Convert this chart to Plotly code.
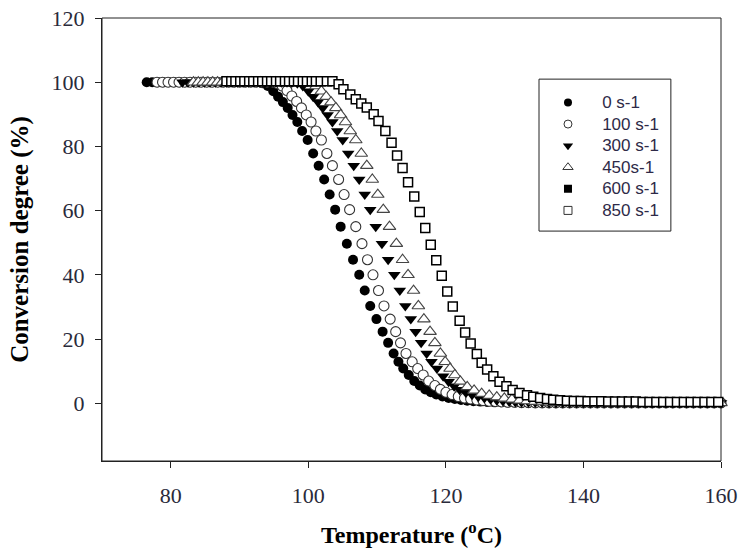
import plotly.graph_objects as go

# ---------------- data ----------------
series_names = ["0 s-1", "100 s-1", "300 s-1", "450s-1", "600 s-1", "850 s-1"]

T_0 = [76.5, 77.3, 78.1, 78.9, 79.7, 80.5, 81.3, 82.1, 82.9, 83.7, 84.5, 85.3, 86.1, 86.9, 87.7, 88.5, 89.3, 90.1, 90.9, 91.7, 92.5,
       93.3, 94.1, 94.9, 95.6, 96.3, 97.0, 97.7, 98.4, 99.1,
       99.9, 100.7, 101.5, 102.3, 103.1, 103.9, 104.7, 105.6, 106.5, 107.4, 108.2, 109.0, 109.9, 110.8, 111.6, 112.4, 113.1, 113.8,
       114.6, 115.4, 116.2, 117.0, 117.8, 118.6, 119.5, 120.4, 121.3, 122.2, 123.1, 124.0, 125.0, 126.0, 127.0, 128.0, 129.0, 130.0,
       131.0, 132.0, 133.0, 134.0, 135.0, 136.0, 137.0, 138.0, 139.0, 140.0, 141.0, 142.0, 143.0, 144.0, 145.0, 146.0, 147.0, 148.0,
       149.0, 150.0, 151.0, 152.0, 153.0, 154.0, 155.0, 156.0, 157.0, 158.0, 159.0, 160.0]
Y_0 = [100.0, 100.0, 100.0, 100.0, 100.0, 100.0, 100.0, 100.0, 100.0, 100.0, 100.0, 100.0, 100.0, 100.0, 100.0, 100.0, 100.0, 100.0, 100.0, 100.0, 100.0,
       99.7, 98.8, 97.2, 95.5, 93.8, 92.0, 89.8, 87.6, 84.8,
       82.0, 77.8, 74.0, 69.7, 65.0, 60.3, 55.0, 49.7, 44.7, 40.0, 35.1, 30.3, 26.2, 22.3, 18.8, 15.5, 12.9, 10.8,
       8.8, 6.9, 5.5, 4.3, 3.4, 2.7, 2.1, 1.6, 1.3, 1.0, 0.8, 0.6, 0.5, 0.4, 0.3, 0.3, 0.2, 0.2,
       0.1, 0.1, 0.1, 0.1, 0.1, 0.1, 0.1, 0.1, 0.1, 0.1, 0.1, 0.1, 0.1, 0.1, 0.1, 0.1, 0.1, 0.1,
       0.1, 0.1, 0.1, 0.1, 0.1, 0.1, 0.1, 0.1, 0.1, 0.1, 0.1, 0.1]

T_100 = [78.0, 78.8, 79.6, 80.4, 81.2, 82.0, 82.8, 83.6, 84.4, 85.2, 86.0, 86.8, 87.6, 88.4, 89.2, 90.0, 90.8, 91.6, 92.4, 93.2, 94.0, 94.8,
         95.5, 96.2, 96.9, 97.6, 98.3, 99.0, 99.7, 100.4, 101.1,
         101.9, 102.7, 103.5, 104.4, 105.2, 106.0, 106.9, 107.8, 108.6, 109.4, 110.2, 111.0, 111.9, 112.7, 113.4, 114.2, 115.1, 115.9,
         116.7, 117.5, 118.4, 119.2, 120.0, 120.9, 121.8, 122.7, 123.6, 124.5, 125.4, 126.3, 127.2, 128.1, 129.0, 130.0, 131.0, 132.0,
         133.0, 134.0, 135.0, 136.0, 137.0, 138.0, 139.0, 140.0, 141.0, 142.0, 143.0, 144.0, 145.0, 146.0, 147.0, 148.0,
         149.0, 150.0, 151.0, 152.0, 153.0, 154.0, 155.0, 156.0, 157.0, 158.0, 159.0, 160.0]
Y_100 = [100.0, 100.0, 100.0, 100.0, 100.0, 100.0, 100.0, 100.0, 100.0, 100.0, 100.0, 100.0, 100.0, 100.0, 100.0, 100.0, 100.0, 100.0, 100.0, 100.0, 100.0, 100.0,
         99.6, 98.8, 97.4, 95.7, 94.0, 92.0, 89.8, 87.6, 84.8,
         82.0, 77.8, 74.0, 69.7, 65.0, 60.3, 55.0, 49.7, 44.7, 40.0, 35.1, 30.3, 26.2, 22.3, 18.8, 15.5, 12.9, 10.8,
         8.8, 6.9, 5.5, 4.3, 3.4, 2.7, 2.1, 1.6, 1.3, 1.0, 0.8, 0.6, 0.5, 0.4, 0.3, 0.3, 0.2, 0.2,
         0.1, 0.1, 0.1, 0.1, 0.1, 0.1, 0.1, 0.1, 0.1, 0.1, 0.1, 0.1, 0.1, 0.1, 0.1, 0.1,
         0.1, 0.1, 0.1, 0.1, 0.1, 0.1, 0.1, 0.1, 0.1, 0.1, 0.1, 0.1]

T_300 = [81.7, 82.5, 83.3, 84.1, 84.9, 85.7, 86.5, 87.3, 88.1, 88.9, 89.7, 90.5, 91.3, 92.1, 92.9, 93.7, 94.5, 95.3, 96.1, 96.9,
         97.6, 98.4, 99.2, 100.0, 100.7, 101.4, 102.1, 102.8, 103.5, 104.2,
         105.0, 105.8, 106.6, 107.4, 108.2, 109.0, 109.8, 110.7, 111.6, 112.5, 113.3, 114.1, 114.9, 115.6, 116.4, 117.2, 117.9, 118.7,
         119.6, 120.4, 121.2, 122.0, 122.9, 123.8, 124.7, 125.6, 126.5, 127.4, 128.3, 129.2, 130.1, 131.0, 132.0, 133.0, 134.0,
         135.0, 136.0, 137.0, 138.0, 139.0, 140.0, 141.0, 142.0, 143.0, 144.0, 145.0, 146.0, 147.0, 148.0,
         149.0, 150.0, 151.0, 152.0, 153.0, 154.0, 155.0, 156.0, 157.0, 158.0, 159.0, 160.0]
Y_300 = [100.0, 100.0, 100.0, 100.0, 100.0, 100.0, 100.0, 100.0, 100.0, 100.0, 100.0, 100.0, 100.0, 100.0, 100.0, 100.0, 100.0, 100.0, 100.0, 100.0,
         99.9, 99.7, 98.8, 97.2, 95.5, 93.8, 92.0, 89.8, 87.6, 84.8,
         82.0, 77.8, 74.0, 69.7, 65.0, 60.3, 55.0, 49.7, 44.7, 40.0, 35.1, 30.3, 26.2, 22.3, 18.8, 15.5, 12.9, 10.8,
         8.4, 6.7, 5.3, 4.2, 3.3, 2.6, 2.0, 1.6, 1.2, 0.9, 0.7, 0.5, 0.4, 0.3, 0.3, 0.2, 0.2,
         0.1, 0.1, 0.1, 0.1, 0.1, 0.1, 0.1, 0.1, 0.1, 0.1, 0.1, 0.1, 0.1, 0.1,
         0.1, 0.1, 0.1, 0.1, 0.1, 0.1, 0.1, 0.1, 0.1, 0.1, 0.1, 0.1]

T_450 = [83.3, 84.0, 84.7, 85.4, 86.1, 86.8, 87.5, 88.2, 88.9, 89.6, 90.3, 91.0, 91.7, 92.4, 93.1, 93.8, 94.5, 95.2, 95.9, 96.6, 97.3, 98.0, 98.7, 99.4,
         100.3, 101.1, 101.9, 102.6, 103.3, 104.0, 104.7, 105.4, 106.1,
         106.9, 107.7, 108.5, 109.3, 110.1, 110.9, 111.8, 112.8, 113.7, 114.5, 115.3, 116.0, 116.8, 117.7, 118.4, 119.2, 119.9, 120.6,
         121.3, 122.1, 123.1, 124.1, 125.2, 126.3, 127.4, 128.5, 129.6, 130.7, 131.8, 132.9, 134.0, 135.0, 136.0, 137.0,
         138.0, 139.0, 140.0, 141.0, 142.0, 143.0, 144.0, 145.0, 146.0, 147.0, 148.0,
         149.0, 150.0, 151.0, 152.0, 153.0, 154.0, 155.0, 156.0, 157.0, 158.0, 159.0, 160.0]
Y_450 = [100.0, 100.0, 100.0, 100.0, 100.0, 100.0, 100.0, 100.0, 100.0, 100.0, 100.0, 100.0, 100.0, 100.0, 100.0, 100.0, 100.0, 100.0, 100.0, 100.0, 100.0, 100.0, 100.0, 100.0,
         99.7, 98.8, 97.2, 95.5, 93.8, 92.0, 89.8, 87.6, 84.8,
         82.0, 77.8, 74.0, 69.7, 65.0, 60.3, 55.0, 49.7, 44.7, 40.0, 35.1, 30.3, 26.2, 22.3, 18.8, 15.5, 12.9, 10.8,
         8.8, 6.8, 5.1, 4.0, 3.0, 2.4, 1.9, 1.5, 1.2, 0.9, 0.7, 0.5, 0.4, 0.3, 0.2, 0.2,
         0.1, 0.1, 0.1, 0.1, 0.1, 0.1, 0.1, 0.1, 0.1, 0.1, 0.1,
         0.1, 0.1, 0.1, 0.1, 0.1, 0.1, 0.1, 0.1, 0.1, 0.1, 0.1, 0.1]

T_850 = [88.1, 88.8, 89.4, 90.1, 90.7, 91.4, 92.0, 92.7, 93.3, 94.0, 94.6, 95.3, 95.9, 96.6, 97.2, 97.9, 98.5, 99.2, 99.8, 100.5, 101.1, 101.8, 102.7, 103.5,
         104.4, 105.1, 106.1, 106.9, 107.7, 108.5, 109.5, 110.2, 111.2, 112.1, 112.9, 113.7, 114.5, 115.4, 116.2, 117.0, 117.8, 118.6,
         119.4, 120.2, 121.0, 122.0, 122.8, 123.6, 124.5, 125.2, 126.0, 126.9, 127.8, 128.8, 129.7, 130.7, 131.8, 132.7, 133.7, 134.7,
         135.6, 136.6, 137.6, 138.6, 139.6, 140.6, 141.6, 142.6, 143.6, 144.6, 145.6, 146.6, 147.6, 148.6, 149.6, 150.6, 151.6, 152.6,
         153.6, 154.6, 155.6, 156.6, 157.6, 158.6, 159.6]
Y_850 = [100.3, 100.3, 100.3, 100.3, 100.3, 100.3, 100.3, 100.3, 100.3, 100.3, 100.3, 100.3, 100.3, 100.3, 100.3, 100.3, 100.3, 100.3, 100.3, 100.3, 100.3, 100.3, 100.3, 100.3,
         99.4, 97.8, 96.2, 94.7, 93.4, 92.1, 90.0, 87.9, 84.8, 81.1, 77.2, 73.3, 68.8, 64.4, 59.6, 54.6, 49.4, 44.5,
         39.7, 34.8, 30.1, 25.7, 22.0, 18.6, 15.3, 12.6, 10.5, 8.4, 6.7, 5.3, 4.1, 3.2, 2.5, 2.0, 1.6, 1.3,
         1.1, 0.9, 0.8, 0.7, 0.7, 0.6, 0.6, 0.6, 0.5, 0.5, 0.5, 0.5, 0.5, 0.4, 0.4, 0.4, 0.4, 0.4,
         0.4, 0.4, 0.4, 0.4, 0.4, 0.4, 0.4]

x_ticks = [80, 100, 120, 140, 160]
y_ticks = [0, 20, 40, 60, 80, 100, 120]

# ---------------- styles ----------------
SERIF = "Liberation Serif, Times New Roman, serif"
SANS = "Liberation Sans, Arial, sans-serif"

styles = {
    "0 s-1":   dict(symbol="circle", size=10, color="black", line=dict(color="black", width=0)),
    "100 s-1": dict(symbol="circle", size=10, color="white", line=dict(color="#333333", width=1.1)),
    "300 s-1": dict(symbol="triangle-down", size=11, color="black", line=dict(color="black", width=0)),
    "450s-1":  dict(symbol="triangle-up", size=11, color="white", line=dict(color="#444444", width=1.1)),
    "600 s-1": dict(symbol="square", size=9, color="black", line=dict(color="black", width=0)),
    "850 s-1": dict(symbol="square", size=9, color="white", line=dict(color="black", width=1.5)),
}
legend_styles = {
    "0 s-1":   dict(symbol="circle", size=8, color="black", line=dict(color="black", width=0)),
    "100 s-1": dict(symbol="circle", size=8, color="white", line=dict(color="#333333", width=1)),
    "300 s-1": dict(symbol="triangle-down", size=9, color="black", line=dict(color="black", width=0)),
    "450s-1":  dict(symbol="triangle-up", size=9, color="white", line=dict(color="#333333", width=1)),
    "600 s-1": dict(symbol="square", size=8, color="black", line=dict(color="black", width=0)),
    "850 s-1": dict(symbol="square", size=8, color="white", line=dict(color="#333333", width=1)),
}

data = {
    "0 s-1": (T_0, Y_0),
    "100 s-1": (T_100, Y_100),
    "300 s-1": (T_300, Y_300),
    "450s-1": (T_450, Y_450),
    "850 s-1": (T_850, Y_850),
}

fig = go.Figure()
for name in series_names:
    if name in data:
        xs, ys = data[name]
        fig.add_trace(go.Scatter(x=xs, y=ys, mode="markers", name=name, showlegend=False,
                                 marker=styles[name], cliponaxis=False))
for name in series_names:
    label = "<span style='font-size:17px'>\u00a0\u00a0\u00a0" + name + "</span>"
    fig.add_trace(go.Scatter(x=[None], y=[None], mode="markers", name=label,
                             showlegend=True, marker=legend_styles[name]))

axis_common = dict(showline=True, linecolor="#222222", linewidth=1, mirror=False,
                   ticks="outside", ticklen=6, tickwidth=1, tickcolor="#222222",
                   showgrid=False, zeroline=False, automargin=False,
                   ticklabeloverflow="allow",
                   tickfont=dict(family=SERIF, size=22, color="#2a2a3a"))

fig.update_layout(
    width=752, height=556,
    margin=dict(l=102, r=31, t=18, b=95),
    paper_bgcolor="white", plot_bgcolor="white",
    xaxis=dict(range=[70, 160], tickvals=x_ticks, ticklabelstandoff=9,
               title=dict(text="Temperature (<sup>o</sup>C)", standoff=18,
                          font=dict(family=SERIF, size=24, color="black", weight="bold")),
               **axis_common),
    yaxis=dict(range=[-18, 120], tickvals=y_ticks, ticklabelstandoff=6,
               title=dict(text="Conversion degree (%)", standoff=15,
                          font=dict(family=SERIF, size=25, color="black", weight="bold")),
               **axis_common),
    legend=dict(x=0.7205, y=0.845, xanchor="left", yanchor="top",
                bgcolor="rgba(0,0,0,0)", borderwidth=0,
                font=dict(family=SANS, size=14.3, color="#2e2a48"),
                tracegroupgap=0, itemwidth=30),
    shapes=[
        # plot frame (top and right border lines)
        dict(type="rect", xref="paper", yref="paper", x0=0, x1=1, y0=0, y1=1, layer="below",
             line=dict(color="#222222", width=1), fillcolor="rgba(0,0,0,0)"),
        # legend box
        dict(type="rect", xref="paper", yref="paper",
             x0=0.706, x1=0.919, y0=0.519, y1=0.862,
             line=dict(color="#222222", width=1), fillcolor="rgba(0,0,0,0)"),
    ],
)

# remove the default 8px page margin so the figure sits at the window's top-left corner
fig.write_html("out.html", config={"displayModeBar": False},
               post_script="document.body.style.margin='0';")
